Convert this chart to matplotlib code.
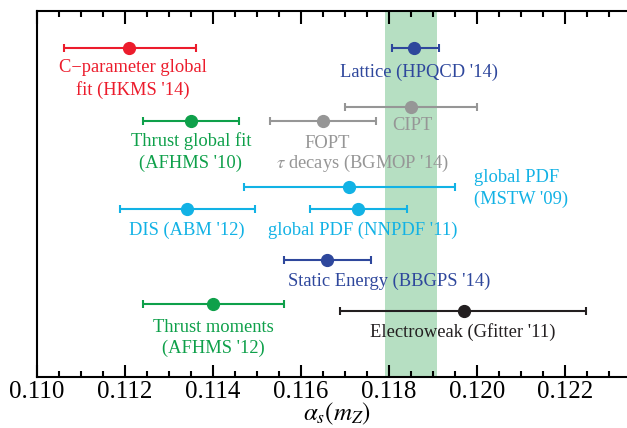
import matplotlib
matplotlib.use("Agg")
import matplotlib.pyplot as plt

plt.rcParams['font.family'] = ['Liberation Serif', 'DejaVu Serif']
plt.rcParams['mathtext.fontset'] = 'stix'

# measurements: central value, lower and upper edge of the error bar
names = ["C-parameter", "Lattice", "Thrust global", "CIPT", "FOPT",
         "MSTW", "ABM", "NNPDF", "Static Energy", "Thrust moments", "Electroweak"]
central = [0.1121, 0.11857, 0.1135, 0.1185, 0.11650, 0.1171, 0.1134, 0.1173, 0.1166, 0.1140, 0.1197]
low = [0.11062, 0.11806, 0.1124, 0.11701, 0.1153, 0.1147, 0.11188, 0.1162, 0.11561, 0.11242, 0.11689]
high = [0.11361, 0.11913, 0.1146, 0.1200, 0.1177, 0.11949, 0.11495, 0.1184, 0.1176, 0.11562, 0.12248]
row = [48, 48, 121, 106.5, 121, 187, 209, 209, 260, 304, 311]
colors = ["#ec1c2c", "#2e479c", "#0ea04a", "#969696", "#969696", "#12b2e5",
          "#12b2e5", "#12b2e5", "#2e479c", "#0ea04a", "#231f20"]

# world average band
band = (0.1179, 0.1191)

labels = [
    ("C\u2212parameter global\nfit (HKMS '14)", 0.11218, 79, "center", "#ec1c2c"),
    ("Lattice (HPQCD '14)", 0.11868, 72, "center", "#2e479c"),
    ("Thrust global fit\n(AFHMS '10)", 0.1135, 152, "center", "#0ea04a"),
    ("CIPT", 0.11852, 126, "center", "#969696"),
    ("FOPT", 0.11659, 143, "center", "#969696"),
    ("$\\tau$ decays (BGMOP '14)", 0.11740, 163, "center", "#969696"),
    ("global PDF\n(MSTW '09)", 0.11993, 188.5, "left", "#12b2e5"),
    ("DIS (ABM '12)", 0.11340, 230, "center", "#12b2e5"),
    ("global PDF (NNPDF '11)", 0.11740, 230, "center", "#12b2e5"),
    ("Static Energy (BBGPS '14)", 0.11800, 281, "center", "#2e479c"),
    ("Thrust moments\n(AFHMS '12)", 0.11401, 338, "center", "#0ea04a"),
    ("Electroweak (Gfitter '11)", 0.11968, 332, "center", "#231f20"),
]

fig = plt.figure(figsize=(6.27, 4.28), dpi=100)
# the right edge of the original frame is cut off by the image border
ax = fig.add_axes([37 / 627, 51 / 428, 600 / 627, 366 / 428])

ax.axvspan(band[0], band[1], color="#b6dfc2", lw=0, zorder=0)

for c, lo, hi, y, col in zip(central, low, high, row, colors):
    ax.errorbar(c, y, xerr=[[c - lo], [hi - c]], fmt="o", color=col, ms=8.5,
                elinewidth=1.5, capsize=3, capthick=1.5, zorder=3)

for txt, x, y, ha, col in labels:
    ax.text(x, y, txt, ha=ha, va="center", color=col, fontsize=13.3,
            linespacing=1.3)

ax.set_xlim(0.1100, 0.1100 + 600 / 44 * 0.001)
ax.set_ylim(377, 11)
ax.set_yticks([])
ax.set_xticks([0.110, 0.112, 0.114, 0.116, 0.118, 0.120, 0.122])
ax.set_xticklabels(["0.110", "0.112", "0.114", "0.116", "0.118", "0.120", "0.122"])
ax.set_xticks([0.110 + 0.0005 * i for i in range(28)], minor=True)
ax.tick_params(axis="x", which="both", direction="in", top=True, bottom=True,
               labelsize=18, width=1.5, pad=3)
ax.tick_params(axis="x", which="major", length=9)
ax.tick_params(axis="x", which="minor", length=4)
for s in ax.spines.values():
    s.set_linewidth(1.5)
ax.spines["right"].set_visible(False)
ax.set_xlabel("$\\alpha_s(m_Z)$", fontsize=18, labelpad=-2)

fig.savefig("out.png", dpi=100)
